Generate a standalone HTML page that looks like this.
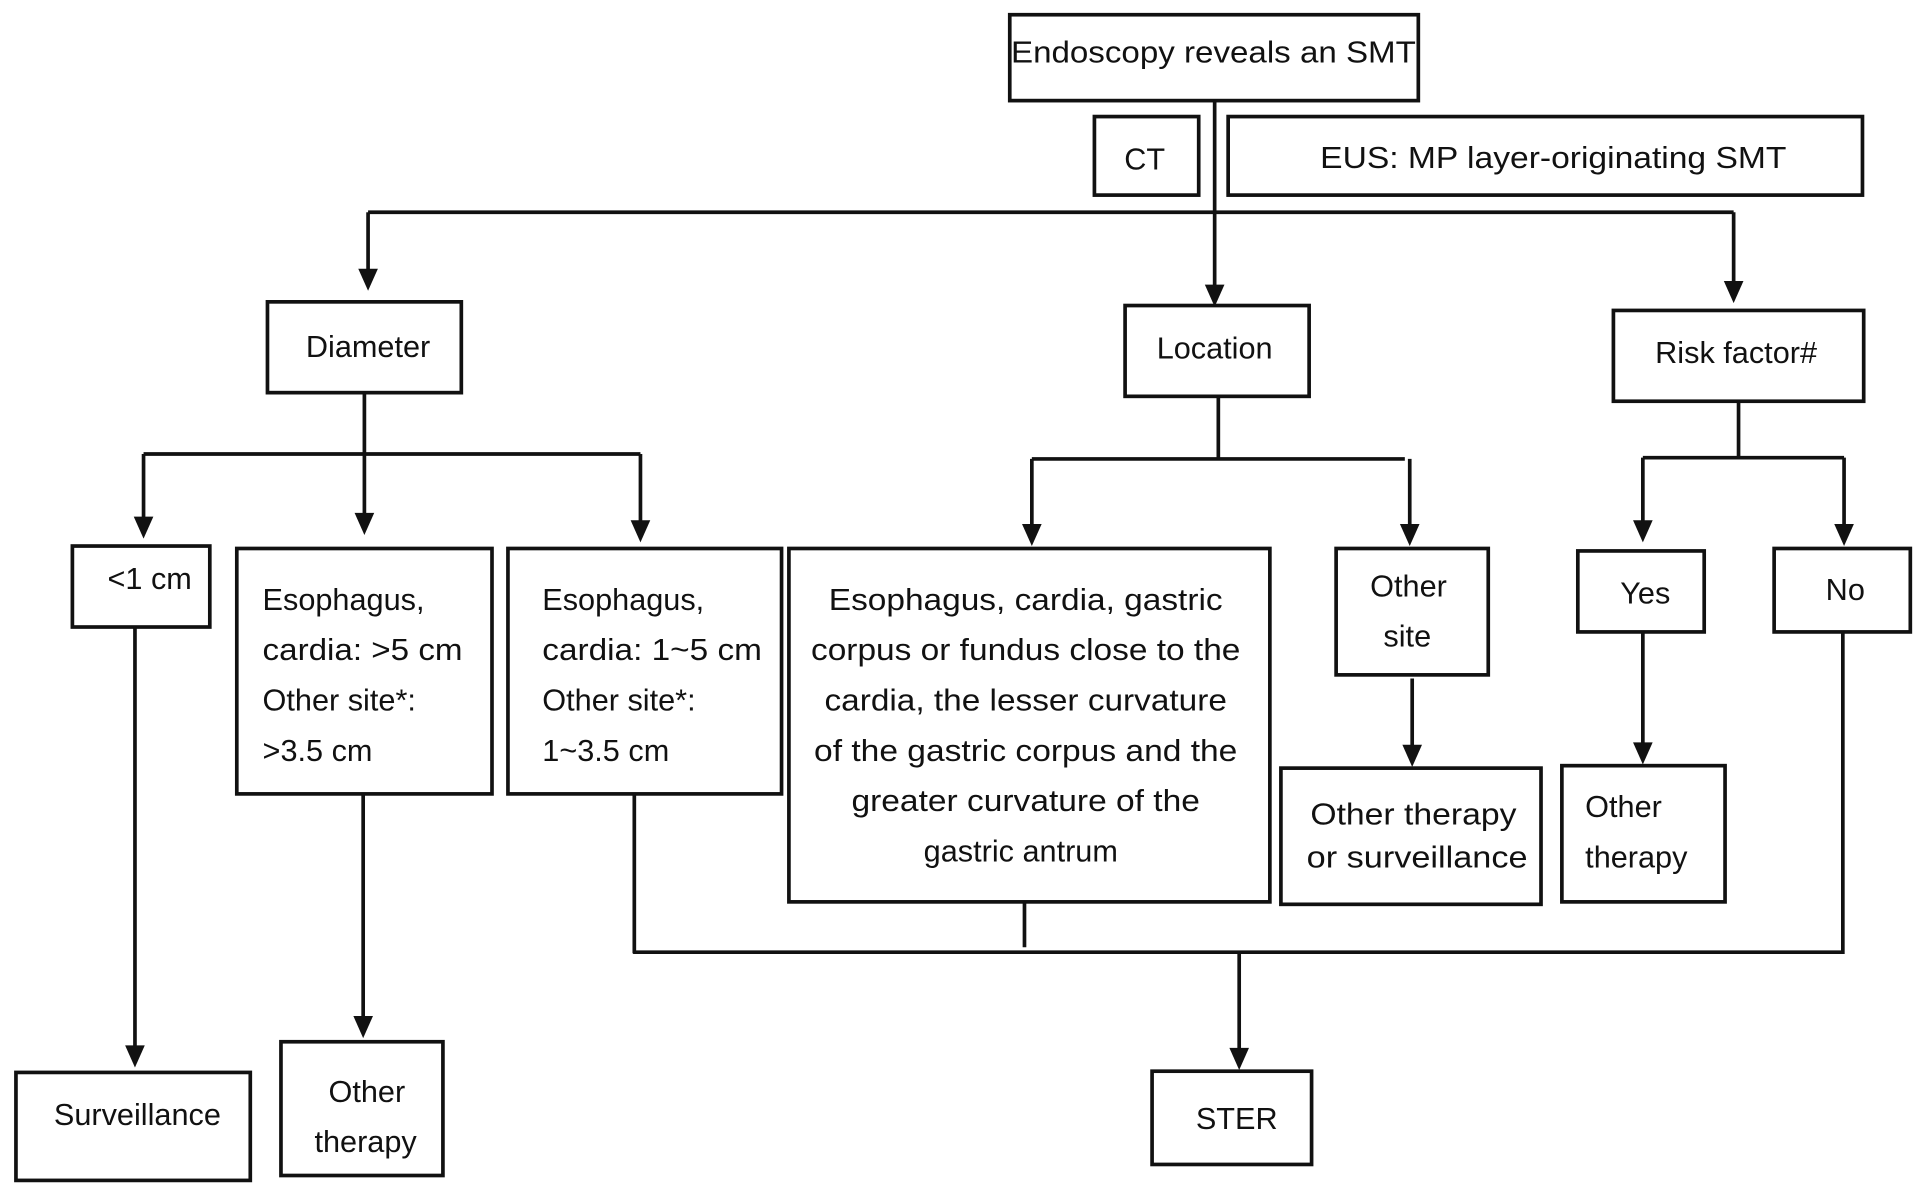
<!DOCTYPE html>
<html><head><meta charset="utf-8"><style>
html,body{margin:0;padding:0;background:#fff;width:1914px;height:1189px;overflow:hidden}
svg{display:block}
text{font-family:"Liberation Sans",sans-serif;font-size:25px;fill:#111}
</style></head><body>
<svg width="1914" height="1189" viewBox="0 0 1560 969" preserveAspectRatio="none">
<g fill="#fff" stroke="#111" stroke-width="3">
<rect x="823" y="12" width="333" height="70"/>
<rect x="892" y="95" width="85" height="64"/>
<rect x="1001" y="95" width="517" height="64"/>
<rect x="218" y="246" width="158" height="74"/>
<rect x="917" y="249" width="150" height="74"/>
<rect x="1315" y="253" width="204" height="74"/>
<rect x="59" y="445" width="112" height="66"/>
<rect x="193" y="447" width="208" height="200"/>
<rect x="414" y="447" width="223" height="200"/>
<rect x="643" y="447" width="392" height="288"/>
<rect x="1089" y="447" width="124" height="103"/>
<rect x="1286" y="449" width="103" height="66"/>
<rect x="1446" y="447" width="111" height="68"/>
<rect x="1044" y="626" width="212" height="111"/>
<rect x="1273" y="624" width="133" height="111"/>
<rect x="13" y="874" width="191" height="88"/>
<rect x="229" y="849" width="132" height="109"/>
<rect x="939" y="873" width="130" height="76"/>
</g>
<g fill="none" stroke="#111" stroke-width="3">
<line x1="990" y1="82" x2="990" y2="235"/>
<path d="M300,173 L1413,173"/>
<path d="M300,173 V222"/>
<path d="M1413,173 V232"/>
<path d="M297,320 V370 M117,370 H522"/>
<path d="M117,370 V424"/>
<path d="M297,370 V421"/>
<path d="M522,370 V427"/>
<path d="M993,323 V374 M841,374 H1145"/>
<path d="M841,374 V430"/>
<path d="M1149,374 V430"/>
<path d="M1417,327 V373 M1339,373 H1503"/>
<path d="M1339,373 V427"/>
<path d="M1503,373 V430"/>
<path d="M1151,553 V610"/>
<path d="M1339,515 V608"/>
<path d="M1502,515 V776 H516"/>
<path d="M517,647 V777 M835,735 V772"/>
<path d="M1010,777 V857"/>
<path d="M110,511 V855"/>
<path d="M296,647 V831"/>
</g>
<g fill="#111">
<polygon points="982,232 998,232 990,250"/>
<polygon points="292,219 308,219 300,237"/>
<polygon points="1405,229 1421,229 1413,247"/>
<polygon points="109,421 125,421 117,439"/>
<polygon points="289,418 305,418 297,436"/>
<polygon points="514,424 530,424 522,442"/>
<polygon points="833,427 849,427 841,445"/>
<polygon points="1141,427 1157,427 1149,445"/>
<polygon points="1331,424 1347,424 1339,442"/>
<polygon points="1495,427 1511,427 1503,445"/>
<polygon points="1143,607 1159,607 1151,625"/>
<polygon points="1331,605 1347,605 1339,623"/>
<polygon points="1002,854 1018,854 1010,872"/>
<polygon points="102,852 118,852 110,870"/>
<polygon points="288,828 304,828 296,846"/>
</g>
<text x="989" y="51" text-anchor="middle" textLength="330" lengthAdjust="spacingAndGlyphs">Endoscopy reveals an SMT</text>
<text x="933" y="138" text-anchor="middle">CT</text>
<text x="1266" y="137" text-anchor="middle" textLength="380" lengthAdjust="spacingAndGlyphs">EUS: MP layer-originating SMT</text>
<text x="300" y="291" text-anchor="middle">Diameter</text>
<text x="990" y="292" text-anchor="middle">Location</text>
<text x="1415" y="296" text-anchor="middle">Risk factor#</text>
<text x="122" y="480" text-anchor="middle">&lt;1 cm</text>
<g text-anchor="start">
<text x="214" y="497">Esophagus,</text>
<text x="214" y="538" textLength="163" lengthAdjust="spacingAndGlyphs">cardia: &gt;5 cm</text>
<text x="214" y="579">Other site*:</text>
<text x="214" y="620">&gt;3.5 cm</text>
<text x="442" y="497">Esophagus,</text>
<text x="442" y="538" textLength="179" lengthAdjust="spacingAndGlyphs">cardia: 1~5 cm</text>
<text x="442" y="579">Other site*:</text>
<text x="442" y="620">1~3.5 cm</text>
<text x="1292" y="666">Other</text>
<text x="1292" y="707">therapy</text>
</g>
<g text-anchor="middle">
<text x="836" y="497" textLength="321" lengthAdjust="spacingAndGlyphs">Esophagus, cardia, gastric</text>
<text x="836" y="538" textLength="350" lengthAdjust="spacingAndGlyphs">corpus or fundus close to the</text>
<text x="836" y="579" textLength="328" lengthAdjust="spacingAndGlyphs">cardia, the lesser curvature</text>
<text x="836" y="620" textLength="345" lengthAdjust="spacingAndGlyphs">of the gastric corpus and the</text>
<text x="836" y="661" textLength="284" lengthAdjust="spacingAndGlyphs">greater curvature of the</text>
<text x="832" y="702">gastric antrum</text>
<text x="1148" y="486">Other</text>
<text x="1147" y="527">site</text>
<text x="1341" y="492">Yes</text>
<text x="1504" y="489">No</text>
<text x="1152" y="672" textLength="168" lengthAdjust="spacingAndGlyphs">Other therapy</text>
<text x="1155" y="707" textLength="180" lengthAdjust="spacingAndGlyphs">or surveillance</text>
<text x="112" y="917">Surveillance</text>
<text x="299" y="898">Other</text>
<text x="298" y="939">therapy</text>
<text x="1008" y="920">STER</text>
</g>
</svg>
</body></html>
